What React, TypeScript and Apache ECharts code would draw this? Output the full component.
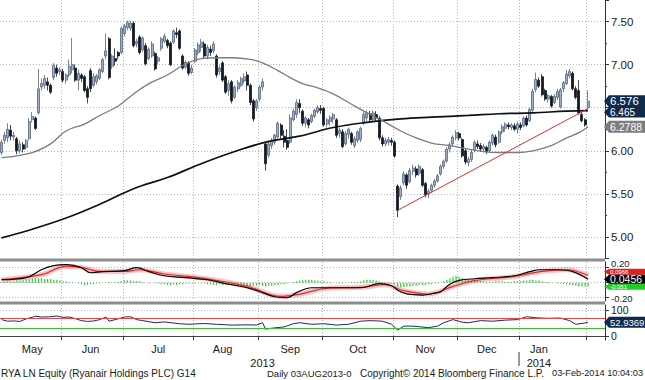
import React, { useEffect, useRef } from 'react';
import * as echarts from 'echarts';

const monthNames = ['May', 'Jun', 'Jul', 'Aug', 'Sep', 'Oct', 'Nov', 'Dec', 'Jan', 'Feb'];
const monthDays = [20, 20, 23, 21, 21, 23, 21, 20, 22, 1];
const monthLabelIdx = [10, 29, 51, 72, 94, 116, 138, 158, 175];
const padDays = 5;
const yearLabels = ['2013', '2014'];
const yearLabelIdx = [85, 175];
const yearSplitIdx = 169;

// daily candles: [open, close, low, high]
const ohlc: number[][] = [
  [5.98, 6.10, 5.95, 6.13], [6.12, 6.18, 6.08, 6.22], [6.15, 6.25, 6.10, 6.32], [6.24, 6.17, 6.12, 6.30],
  [6.16, 6.18, 6.12, 6.22], [6.14, 6.00, 5.96, 6.16], [6.00, 6.08, 5.97, 6.12], [6.07, 6.02, 5.98, 6.10],
  [6.04, 6.12, 6.01, 6.14], [6.14, 6.34, 6.12, 6.38], [6.36, 6.40, 6.33, 6.45], [6.38, 6.26, 6.24, 6.40],
  [6.44, 6.72, 6.42, 6.95], [6.74, 6.78, 6.70, 6.84], [6.76, 6.84, 6.72, 6.88], [6.80, 6.76, 6.70, 6.85],
  [6.76, 6.68, 6.66, 6.78], [6.85, 6.99, 6.82, 7.02], [6.96, 6.90, 6.86, 7.00], [6.92, 6.94, 6.88, 6.97],
  [6.92, 6.82, 6.79, 6.95], [6.82, 6.88, 6.78, 6.90], [6.88, 6.98, 6.85, 7.06], [6.94, 7.00, 6.90, 7.31],
  [6.96, 6.82, 6.80, 7.00], [6.82, 6.90, 6.70, 6.94], [6.88, 6.84, 6.80, 6.90], [6.86, 6.70, 6.68, 6.88],
  [6.72, 6.62, 6.55, 6.75], [6.93, 6.72, 6.68, 6.96], [6.76, 6.86, 6.74, 6.90], [6.80, 6.87, 6.77, 6.89],
  [6.84, 6.94, 6.82, 6.96], [6.92, 7.06, 6.90, 7.08], [7.10, 7.16, 7.06, 7.36], [7.30, 6.85, 6.83, 7.32],
  [6.98, 7.10, 6.95, 7.12], [7.07, 7.04, 6.99, 7.19], [7.14, 7.10, 7.06, 7.16], [7.14, 7.42, 7.12, 7.44],
  [7.36, 7.45, 7.33, 7.47], [7.43, 7.49, 7.40, 7.51], [7.42, 7.48, 7.39, 7.51], [7.48, 7.22, 7.20, 7.50],
  [7.24, 7.27, 7.20, 7.30], [7.32, 7.14, 7.12, 7.34], [7.17, 7.31, 7.15, 7.33], [7.22, 7.01, 6.99, 7.25],
  [7.07, 7.18, 7.05, 7.20], [7.10, 7.24, 7.08, 7.27], [7.13, 6.95, 6.93, 7.15], [7.04, 7.08, 7.00, 7.10],
  [7.19, 7.30, 7.16, 7.32], [7.27, 7.33, 7.25, 7.36], [7.28, 7.22, 7.19, 7.30], [7.25, 7.00, 6.98, 7.27],
  [7.26, 7.39, 7.24, 7.41], [7.37, 7.35, 7.31, 7.43], [7.39, 7.19, 7.17, 7.41], [7.10, 6.96, 6.94, 7.12],
  [6.97, 7.03, 6.95, 7.05], [7.02, 6.90, 6.87, 7.04], [6.91, 6.96, 6.89, 7.00], [7.04, 7.17, 7.02, 7.19],
  [7.14, 7.23, 7.11, 7.26], [7.20, 7.26, 7.15, 7.30], [7.24, 7.10, 7.07, 7.27], [7.10, 7.20, 7.06, 7.23],
  [7.18, 7.14, 7.10, 7.22], [7.16, 7.24, 7.13, 7.27], [7.10, 6.88, 6.85, 7.12], [6.92, 6.96, 6.88, 6.99],
  [7.02, 6.82, 6.80, 7.04], [6.86, 6.68, 6.66, 6.88], [6.70, 6.78, 6.64, 6.82], [6.80, 6.58, 6.55, 6.82],
  [6.62, 6.74, 6.60, 6.76], [6.72, 6.79, 6.68, 6.82], [6.76, 6.84, 6.74, 6.86], [6.81, 6.86, 6.78, 6.90],
  [6.88, 6.76, 6.70, 6.92], [6.76, 6.56, 6.53, 6.78], [6.58, 6.37, 6.34, 6.60], [6.50, 6.58, 6.46, 6.60],
  [6.60, 6.74, 6.57, 6.76], [6.74, 6.80, 6.70, 6.84], [6.08, 5.85, 5.77, 6.10], [5.95, 6.08, 5.92, 6.12],
  [6.06, 6.12, 6.02, 6.15], [6.10, 6.18, 6.07, 6.20], [6.16, 6.32, 6.14, 6.34], [6.30, 6.18, 6.14, 6.32],
  [6.17, 6.10, 6.04, 6.24], [6.12, 6.04, 6.01, 6.25], [6.10, 6.38, 6.08, 6.42], [6.36, 6.46, 6.34, 6.49],
  [6.42, 6.56, 6.38, 6.60], [6.55, 6.50, 6.44, 6.60], [6.46, 6.32, 6.29, 6.48], [6.32, 6.38, 6.27, 6.40],
  [6.36, 6.30, 6.26, 6.38], [6.34, 6.41, 6.32, 6.43], [6.40, 6.47, 6.38, 6.49], [6.45, 6.50, 6.43, 6.53],
  [6.49, 6.47, 6.43, 6.53], [6.49, 6.30, 6.28, 6.51], [6.31, 6.36, 6.27, 6.38], [6.34, 6.39, 6.29, 6.41],
  [6.37, 6.42, 6.32, 6.44], [6.36, 6.18, 6.15, 6.38], [6.20, 6.24, 6.15, 6.27], [6.22, 6.05, 6.03, 6.25],
  [6.08, 6.20, 6.06, 6.23], [6.19, 6.25, 6.14, 6.27], [6.20, 6.10, 6.07, 6.22], [6.06, 6.14, 6.03, 6.17],
  [6.12, 6.22, 6.09, 6.24], [6.13, 6.26, 6.10, 6.28], [6.32, 6.42, 6.30, 6.45], [6.38, 6.44, 6.34, 6.47],
  [6.43, 6.36, 6.33, 6.46], [6.36, 6.44, 6.33, 6.47], [6.42, 6.38, 6.34, 6.46], [6.38, 6.15, 6.12, 6.40],
  [6.15, 6.08, 6.05, 6.18], [6.08, 6.12, 6.05, 6.15], [6.10, 6.13, 6.06, 6.16], [6.12, 6.10, 6.06, 6.15],
  [6.10, 5.94, 5.92, 6.12], [5.59, 5.31, 5.23, 5.61], [5.47, 5.57, 5.43, 5.60], [5.63, 5.73, 5.60, 5.76],
  [5.72, 5.60, 5.56, 5.74], [5.64, 5.77, 5.62, 5.80], [5.76, 5.80, 5.72, 5.84], [5.79, 5.72, 5.69, 5.82],
  [5.74, 5.82, 5.71, 5.84], [5.78, 5.60, 5.58, 5.80], [5.62, 5.49, 5.46, 5.64], [5.50, 5.53, 5.45, 5.56],
  [5.54, 5.60, 5.51, 5.62], [5.60, 5.65, 5.57, 5.67], [5.65, 5.71, 5.63, 5.73], [5.73, 5.82, 5.71, 5.84],
  [5.82, 5.88, 5.79, 5.90], [5.88, 6.02, 5.86, 6.04], [6.02, 6.07, 5.98, 6.10], [6.08, 6.16, 6.05, 6.18],
  [6.15, 6.21, 6.12, 6.24], [6.20, 6.15, 6.12, 6.22], [6.13, 5.94, 5.92, 6.15], [6.00, 5.87, 5.84, 6.03],
  [5.86, 5.90, 5.82, 5.93], [5.90, 5.98, 5.87, 6.02], [6.00, 6.10, 5.98, 6.12], [6.08, 6.05, 6.02, 6.12],
  [6.06, 6.02, 5.99, 6.09], [6.02, 6.05, 5.98, 6.08], [6.04, 5.99, 5.96, 6.06], [6.00, 6.10, 5.98, 6.12],
  [6.09, 6.18, 6.06, 6.20], [6.16, 6.07, 6.04, 6.19], [6.10, 6.22, 6.08, 6.24], [6.22, 6.28, 6.19, 6.31],
  [6.26, 6.31, 6.22, 6.33], [6.30, 6.28, 6.25, 6.33], [6.27, 6.30, 6.24, 6.32], [6.29, 6.25, 6.23, 6.32],
  [6.25, 6.31, 6.20, 6.34], [6.30, 6.27, 6.24, 6.33], [6.29, 6.38, 6.27, 6.40], [6.38, 6.30, 6.28, 6.41],
  [6.35, 6.48, 6.33, 6.50], [6.47, 6.69, 6.45, 6.72], [6.71, 6.83, 6.68, 6.91], [6.82, 6.75, 6.73, 6.85],
  [6.86, 6.65, 6.63, 6.89], [6.70, 6.60, 6.58, 6.72], [6.60, 6.64, 6.56, 6.66], [6.63, 6.52, 6.50, 6.65],
  [6.56, 6.63, 6.54, 6.66], [6.62, 6.69, 6.59, 6.72], [6.51, 6.71, 6.49, 6.73], [6.72, 6.79, 6.68, 6.81],
  [6.78, 6.89, 6.76, 6.94], [6.87, 6.92, 6.84, 6.95], [6.90, 6.72, 6.70, 6.92], [6.72, 6.62, 6.60, 6.75],
  [6.70, 6.44, 6.42, 6.82], [6.42, 6.35, 6.33, 6.45], [6.36, 6.30, 6.28, 6.38], [6.50, 6.576, 6.48, 6.70],
];

// moving averages: [day index, value]
const ma50: number[][] = [
  [0, 5.92], [10, 5.98], [16, 6.08], [21, 6.23], [27, 6.31], [32, 6.41], [38, 6.52], [43, 6.66], [48, 6.78],
  [54, 6.88], [59, 6.99], [65, 7.07], [70, 7.08], [75, 7.08], [81, 7.06], [85, 7.02], [90, 6.93], [94, 6.85],
  [98, 6.78], [103, 6.73], [108, 6.66], [113, 6.56], [119, 6.44], [124, 6.35], [130, 6.23], [135, 6.15],
  [140, 6.09], [146, 6.06], [152, 6.02], [157, 5.99], [162, 5.98], [168, 5.98], [173, 6.0], [179, 6.06],
  [184, 6.15], [188, 6.21], [191, 6.2788],
];
const ma200: number[][] = [
  [0, 4.99], [10, 5.09], [21, 5.22], [32, 5.38], [43, 5.56], [54, 5.69], [65, 5.85], [75, 5.98], [86, 6.10],
  [97, 6.17], [108, 6.27], [119, 6.33], [130, 6.37], [140, 6.39], [152, 6.41], [162, 6.43], [173, 6.44],
  [184, 6.46], [191, 6.465],
];
const trendStart = [129, 5.31];
const trendEnd = [191, 6.49];

const macdLine: number[][] = [
  [0, 0.04], [8, 0.067], [13, 0.173], [17, 0.227], [21, 0.24], [26, 0.2], [29, 0.133], [33, 0.147], [40, 0.16],
  [44, 0.2], [48, 0.147], [53, 0.093], [60, 0.067], [67, 0.04], [73, -0.013], [80, -0.067], [85, -0.133],
  [89, -0.187], [93, -0.2], [96, -0.133], [101, -0.067], [107, -0.067], [113, -0.067], [117, -0.067],
  [123, -0.013], [127, -0.04], [129, -0.1], [132, -0.15], [137, -0.165], [141, -0.14], [143, -0.12],
  [146, -0.02], [149, 0.03], [154, 0.053], [160, 0.067], [167, 0.093], [172, 0.147], [175, 0.173],
  [181, 0.173], [186, 0.147], [191, 0.0456],
];
const signalLine: number[][] = [
  [0, 0.04], [13, 0.107], [21, 0.217], [26, 0.204], [32, 0.151], [40, 0.151], [45, 0.173], [53, 0.116],
  [67, 0.053], [80, -0.049], [91, -0.182], [96, -0.16], [107, -0.071], [117, -0.062], [125, -0.027],
  [131, -0.107], [139, -0.151], [147, -0.049], [154, 0.027], [167, 0.084], [176, 0.151], [184, 0.173],
  [191, 0.0966],
];
const macdHist: number[] = [
  0.01, 0.01, 0.02, 0.02, 0.02, 0.03, 0.03,
  0.04, 0.05, 0.05, 0.06, 0.06, 0.06, 0.06, 0.05, 0.05, 0.05, 0.04, 0.04, 0.03, 0.02, 0.02,
  0.01, 0.01, 0.0, -0.01,
  -0.02, -0.03, -0.03, -0.02, -0.02,
  -0.01, -0.01, 0.0, 0.0, 0.01, 0.0, 0.01, 0.01, 0.02,
  0.03, 0.03, 0.03, 0.02, 0.02, 0.02,
  0.01, 0.0, -0.01, 0.0, -0.01, -0.01, -0.02,
  -0.02, -0.03, -0.03, -0.02, -0.03, -0.02, -0.02, -0.01, -0.01,
  -0.01, -0.01, 0.0, -0.01, -0.01,
  -0.02, -0.02, -0.03, -0.03, -0.02, -0.03, -0.03, -0.02,
  -0.03, -0.03, -0.04, -0.04, -0.05, -0.05, -0.05, -0.04, -0.04, -0.03, -0.04, -0.05,
  -0.04, -0.04, -0.03, -0.03, -0.02, -0.02, -0.01, 0.0,
  0.01, 0.02, 0.03, 0.04, 0.04, 0.04, 0.04, 0.03, 0.03, 0.02, 0.02, 0.01, 0.01,
  0.0, 0.0, -0.01, -0.01, 0.0, 0.0, 0.01, 0.01, 0.01,
  0.02, 0.03, 0.04, 0.04, 0.04, 0.03, 0.02,
  0.01, 0.0, -0.01, -0.01,
  -0.02, -0.05, -0.06, -0.06, -0.05, -0.05, -0.04, -0.04, -0.03, -0.03, -0.03, -0.02, -0.02, -0.01, -0.01, 0.0,
  0.02, 0.04, 0.06, 0.08, 0.09, 0.08, 0.06, 0.05,
  0.04, 0.03, 0.03, 0.02, 0.02, 0.02, 0.01, 0.01, 0.01, 0.02, 0.02, 0.02, 0.01, 0.01, 0.01,
  0.02, 0.02, 0.02, 0.03, 0.03, 0.04, 0.04, 0.03, 0.03, 0.02,
  0.01, 0.01, 0.0, 0.0, -0.01,
  -0.01, -0.02, -0.02, -0.03, -0.03, -0.04, -0.05, -0.05, -0.05, -0.05,
];
const rsiLine: number[][] = [
  [0, 63], [2, 57], [4, 58], [6, 56], [8, 66], [10, 72], [11, 76], [13, 73], [16, 74], [18, 77], [20, 72],
  [22, 73], [24, 67], [26, 59], [28, 56], [30, 58], [32, 63], [34, 73], [35, 57], [37, 63], [40, 73],
  [42, 74], [44, 63], [46, 59], [50, 51], [53, 54], [56, 50], [58, 47], [61, 45], [66, 48], [70, 45],
  [75, 42], [80, 43], [83, 42], [85, 51], [86, 26], [88, 30], [92, 35], [95, 47], [97, 51], [101, 45],
  [105, 47], [109, 42], [113, 45], [117, 57], [120, 59], [124, 57], [127, 45], [129, 23], [131, 38],
  [134, 38], [139, 32], [142, 38], [144, 51], [147, 63], [150, 53], [152, 51], [156, 59], [160, 57],
  [164, 61], [168, 63], [171, 74], [174, 70], [178, 68], [182, 69], [185, 59], [187, 45], [190, 50],
  [191, 52.94],
];
const rsiUpper = 70;
const rsiLower = 30;

const lastPrice = 6.576;
const lastMa200 = 6.465;
const lastMa50 = 6.2788;
const lastMacd = 0.0456;
const lastSignal = 0.0966;
const lastHist = -0.051;
const lastRsi = 52.9369;

const footer = [
  { text: 'RYA LN Equity (Ryanair Holdings PLC) G14', x: 1, align: 'left', size: 10 },
  { text: 'Daily 03AUG2013-0', x: 267, align: 'left', size: 9.5 },
  { text: 'Copyright\u00A9 2014 Bloomberg Finance L.P.', x: 360, align: 'left', size: 10 },
  { text: '03-Feb-2014 10:04:03', x: 643, align: 'right', size: 9.2 },
];

const categories: string[] = [];
monthNames.forEach((m, i) => {
  for (let d = 1; d <= monthDays[i]; d++) categories.push(`${m} ${d}`);
});
for (let i = 0; i < padDays; i++) categories.push(`pad${i}`);

const monthStarts = new Set<number>();
{
  let acc = 0;
  monthDays.forEach((d) => {
    if (acc > 0) monthStarts.add(acc);
    acc += d;
  });
}
const labelMap = new Map<number, string>(monthLabelIdx.map((idx, i) => [idx, monthNames[i]]));
const yearMap = new Map<number, string>(yearLabelIdx.map((idx, i) => [idx, yearLabels[i]]));

const FONT = '"Liberation Sans", Arial, sans-serif';
const dotted = { color: '#b4b4b4', width: 1, type: [1, 2] as any };
const AXIS_COLOR = '#333';

function baseX(gridIndex: number) {
  return {
    type: 'category' as const,
    gridIndex,
    data: categories,
    boundaryGap: true,
    position: 'bottom' as const,
    axisLine: { show: false },
    axisTick: { show: false },
    axisLabel: { show: false },
    splitLine: { show: true, interval: (i: number) => monthStarts.has(i), lineStyle: dotted },
  };
}

function valueY(gridIndex: number, min: number, max: number, splitNumber: number, fmt: (v: number) => string, fontSize = 11) {
  return {
    type: 'value' as const,
    gridIndex,
    position: 'right' as const,
    min,
    max,
    splitNumber,
    axisLine: { show: true, lineStyle: { color: AXIS_COLOR, width: 1 } },
    axisTick: { show: true, length: 4, lineStyle: { color: AXIS_COLOR } },
    axisLabel: {
      show: true,
      showMinLabel: false,
      showMaxLabel: false,
      formatter: fmt,
      color: '#1a1a1a',
      fontSize,
      fontFamily: FONT,
      margin: 6,
    },
    splitLine: { show: true, showMinLine: false, showMaxLine: false, lineStyle: dotted },
  };
}

export default function App() {
  const ref = useRef<HTMLDivElement>(null);
  useEffect(() => {
    const chart = echarts.init(ref.current!, null, { renderer: 'svg' });
    // the 6.50 label sits under the price tags in the reference
    const mainY: any = valueY(0, 4.75, 7.75, 6, (v) => (Math.abs(v - 6.5) < 1e-9 ? '' : v.toFixed(2)), 11.5);
    mainY.minorTick = { show: true, splitNumber: 2, length: 2, lineStyle: { color: AXIS_COLOR } };
    const macdY: any = valueY(1, -0.244, 0.276, 3, (v) =>
      Math.abs(v) < 1e-9 ? '' : v > 0 ? `{t|${v.toFixed(2)}}` : `{b|${v.toFixed(2)}}`, 10);
    macdY.axisLabel.rich = {
      t: { fontSize: 9.5, fontFamily: FONT, color: '#1a1a1a', padding: [0, 0, 9, 0] },
      b: { fontSize: 9.5, fontFamily: FONT, color: '#1a1a1a', padding: [2, 0, 0, 0] },
    };
    const rsiY: any = valueY(2, -15.4, 119.2, 1, (v) => String(Math.round(v)), 10.5);
    const option: any = {
      animation: false,
      backgroundColor: '#ffffff',
      grid: [
        { left: 0, right: 40, top: 0, height: 258.5 },
        { left: 0, right: 40, top: 262, height: 39 },
        { left: 0, right: 40, top: 305, height: 35 },
      ],
      xAxis: [
        baseX(0),
        baseX(1),
        {
          ...baseX(2),
          axisLine: { show: true, lineStyle: { color: '#444', width: 1 } },
          axisTick: { show: true, length: 4, interval: (i: number) => monthStarts.has(i), lineStyle: { color: '#333' } },
          axisLabel: {
            show: true,
            interval: (i: number) => labelMap.has(i),
            formatter: (_v: string, i: number) => labelMap.get(i) || '',
            color: '#1a1a1a',
            fontSize: 11,
            fontFamily: FONT,
            margin: 3,
          },
        },
        {
          type: 'category',
          gridIndex: 2,
          data: categories,
          boundaryGap: true,
          position: 'bottom',
          offset: 14,
          axisLine: { show: false },
          axisTick: { show: false },
          axisLabel: {
            show: true,
            interval: (i: number) => yearMap.has(i),
            formatter: (_v: string, i: number) => yearMap.get(i) || '',
            color: '#1a1a1a',
            fontSize: 11,
            fontFamily: FONT,
            margin: 3,
          },
          splitLine: { show: false },
        },
      ],
      yAxis: [mainY, macdY, rsiY],
      series: [
        {
          type: 'candlestick',
          xAxisIndex: 0,
          yAxisIndex: 0,
          data: ohlc,
          barWidth: 2.5,
          itemStyle: {
            color: '#9fb0c4',
            color0: '#131a24',
            borderColor: '#56677d',
            borderColor0: '#131a24',
            borderWidth: 0.8,
          },
          markLine: {
            silent: true,
            symbol: ['none', 'none'],
            label: { show: false },
            lineStyle: { color: '#e0302a', width: 1, type: 'solid' },
            data: [[{ coord: trendStart }, { coord: trendEnd }]],
          },
        },
        {
          type: 'line', xAxisIndex: 0, yAxisIndex: 0, data: ma200, smooth: 0.4, showSymbol: false,
          lineStyle: { color: '#0b0f1a', width: 1.7 },
        },
        {
          type: 'line', xAxisIndex: 0, yAxisIndex: 0, data: ma50, smooth: 0.4, showSymbol: false,
          lineStyle: { color: '#7c7c7c', width: 1.3 },
        },
        {
          type: 'bar', xAxisIndex: 1, yAxisIndex: 1, data: macdHist, barWidth: 1.2,
          itemStyle: { color: '#2ecb2e' },
        },
        {
          type: 'line', xAxisIndex: 1, yAxisIndex: 1, data: signalLine, smooth: 0.4, showSymbol: false, clip: false,
          lineStyle: { color: 'rgba(232,90,90,0.35)', width: 5 },
        },
        {
          type: 'line', xAxisIndex: 1, yAxisIndex: 1, data: signalLine, smooth: 0.4, showSymbol: false, clip: false,
          lineStyle: { color: '#e02a2a', width: 1.2 },
        },
        {
          type: 'line', xAxisIndex: 1, yAxisIndex: 1, data: macdLine, smooth: 0.4, showSymbol: false, clip: false,
          lineStyle: { color: '#000000', width: 1.2 },
        },
        {
          type: 'line', xAxisIndex: 2, yAxisIndex: 2, data: rsiLine, showSymbol: false,
          lineStyle: { color: '#1f2a5c', width: 1 },
          markLine: {
            silent: true,
            symbol: ['none', 'none'],
            label: { show: false },
            data: [
              { yAxis: rsiUpper, lineStyle: { color: '#e04a4a', width: 1, type: 'solid' } },
              { yAxis: rsiLower, lineStyle: { color: '#35c035', width: 1, type: 'solid' } },
            ],
          },
        },
      ],
    };
    chart.setOption(option);

    const py = (yAxisIndex: number, v: number) => chart.convertToPixel({ yAxisIndex } as any, v) as number;
    const badge = (y: number, text: string, fill: string, h: number, fontSize: number) => ({
      type: 'group',
      z: 100,
      children: [
        {
          type: 'polygon',
          z: 100,
          shape: { points: [[604, y], [609, y - h / 2], [645, y - h / 2], [645, y + h / 2], [609, y + h / 2]] },
          style: { fill },
        },
        {
          type: 'text',
          z: 101,
          x: 610,
          y,
          style: { text, fill: '#ffffff', fontSize, fontFamily: FONT, align: 'left', verticalAlign: 'middle' },
        },
      ],
    });

    // tags stacked next to one another (as in the reference) without covering each other's text
    const yPrice = py(0, lastPrice);
    const yMa200 = Math.max(py(0, lastMa200), yPrice + 11);
    const yMa50 = py(0, lastMa50);
    const yMacd = py(1, lastMacd);
    const ySig = Math.min(py(1, lastSignal), yMacd - 7.5);
    const yHist = Math.max(py(1, lastHist), yMacd + 7.5);

    // year divider between 2013 and 2014, at the first trading day of January
    const bandW = (chart.convertToPixel({ xAxisIndex: 2 } as any, categories[1]) as number) -
      (chart.convertToPixel({ xAxisIndex: 2 } as any, categories[0]) as number);
    const xYear = (chart.convertToPixel({ xAxisIndex: 2 } as any, categories[yearSplitIdx]) as number) - bandW / 2;

    const graphics: any[] = [
      { type: 'rect', z: 50, shape: { x: 0, y: 258.5, width: 605, height: 3 }, style: { fill: '#8e8e8e' } },
      { type: 'rect', z: 50, shape: { x: 0, y: 301.5, width: 605, height: 3 }, style: { fill: '#8e8e8e' } },
      { type: 'line', z: 50, shape: { x1: xYear, y1: 352, x2: xYear, y2: 366 }, style: { stroke: '#333', lineWidth: 1 } },
      badge(yMa200, lastMa200.toFixed(3), '#102a4c', 10.5, 10),
      badge(yPrice, lastPrice.toFixed(3), '#102a4c', 12, 11.5),
      badge(yMa50, lastMa50.toFixed(4), '#7d7d7d', 12, 10.5),
      badge(ySig, lastSignal.toFixed(4), '#e02020', 6, 6),
      badge(yHist, lastHist.toFixed(3), '#22cc22', 6, 6),
      badge(yMacd, lastMacd.toFixed(4), '#000000', 9, 10.5),
      badge(py(2, lastRsi), lastRsi.toFixed(4), '#102a4c', 11, 9.5),
      ...footer.map((f) => ({
        type: 'text',
        z: 100,
        x: f.x,
        y: 373,
        style: { text: f.text, fill: '#1a1a1a', fontSize: f.size, fontFamily: FONT, align: f.align, verticalAlign: 'middle' },
      })),
    ];
    chart.setOption({ graphic: graphics });
    return () => chart.dispose();
  }, []);
  return (
    <div
      ref={ref}
      style={{ position: 'fixed', left: 0, top: 0, width: 645, height: 380, background: '#ffffff' }}
    />
  );
}
